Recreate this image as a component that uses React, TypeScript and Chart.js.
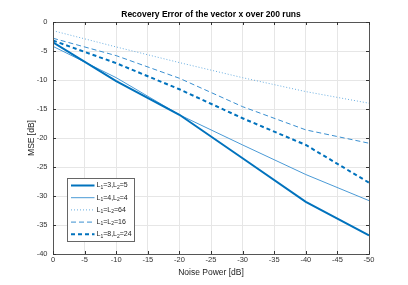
import React, { useEffect, useRef } from "react";
import { Chart, registerables } from "chart.js";

Chart.register(...registerables);

const noisePower = [0, -10, -20, -30, -40, -50];
const seriesLabels = ["L₁=3,L₂=5", "L₁=4,L₂=4", "L₁=L₂=64", "L₁=L₂=16", "L₁=8,L₂=24"];
const mse_3_5 = [-3.5, -10.2, -16.0, -23.5, -31.0, -36.8];
const mse_4_4 = [-4.2, -9.6, -16.0, -21.2, -26.3, -30.8];
const mse_64_64 = [-1.5, -4.3, -7.0, -9.6, -12.0, -14.0];
const mse_16_16 = [-2.8, -5.8, -9.7, -14.6, -18.6, -20.9];
const mse_8_24 = [-3.2, -7.1, -11.6, -16.6, -21.2, -27.7];
const xTicks = [0, -5, -10, -15, -20, -25, -30, -35, -40, -45, -50];
const yTicks = [0, -5, -10, -15, -20, -25, -30, -35, -40];

const FONT = "'Liberation Sans', Arial, Helvetica, sans-serif";

function toPoints(ys: number[]) {
  return ys.map((y, i) => ({ x: noisePower[i], y }));
}

const boxPlugin = {
  id: "boxTicks",
  afterDraw(chart: any) {
    const { ctx, chartArea: a } = chart;
    const xs = chart.scales.x;
    const ys = chart.scales.y;
    ctx.save();
    ctx.strokeStyle = "#555";
    ctx.lineWidth = 1;
    ctx.beginPath();
    ctx.rect(Math.round(a.left) + 0.5, Math.round(a.top) + 0.5, Math.round(a.right - a.left), Math.round(a.bottom - a.top));
    ctx.stroke();
    ctx.strokeStyle = "#333";
    ctx.beginPath();
    xTicks.forEach((t) => {
      const px = Math.round(xs.getPixelForValue(t)) + 0.5;
      ctx.moveTo(px, a.bottom);
      ctx.lineTo(px, a.bottom - 3);
      ctx.moveTo(px, a.top);
      ctx.lineTo(px, a.top + 3);
    });
    yTicks.forEach((t) => {
      const py = Math.round(ys.getPixelForValue(t)) + 0.5;
      ctx.moveTo(a.left, py);
      ctx.lineTo(a.left + 3, py);
      ctx.moveTo(a.right, py);
      ctx.lineTo(a.right - 3, py);
    });
    ctx.stroke();
    ctx.restore();
  },
};

const subMap: Record<string, string> = { "₁": "1", "₂": "2" };

const legendPlugin = {
  id: "insideLegend",
  afterDraw(chart: any) {
    const { ctx, chartArea: a } = chart;
    const ds = chart.data.datasets;
    const bx = a.left + 14.5;
    const by = a.bottom - 75.5;
    const bw = 67;
    const bh = 63;
    ctx.save();
    ctx.fillStyle = "#fff";
    ctx.fillRect(bx, by, bw, bh);
    ctx.strokeStyle = "#666";
    ctx.lineWidth = 1;
    ctx.strokeRect(bx, by, bw, bh);
    ds.forEach((d: any, i: number) => {
      const cy = by + 7 + i * 12.2;
      ctx.strokeStyle = d.borderColor;
      ctx.lineWidth = d.borderWidth;
      ctx.setLineDash(d.borderDash || []);
      ctx.beginPath();
      ctx.moveTo(bx + 3.5, cy);
      ctx.lineTo(bx + 27, cy);
      ctx.stroke();
      ctx.setLineDash([]);
      let tx = bx + 29;
      ctx.fillStyle = "#222";
      ctx.textBaseline = "middle";
      for (const ch of d.label as string) {
        if (subMap[ch]) {
          ctx.font = `5px ${FONT}`;
          ctx.fillText(subMap[ch], tx, cy + 2);
          tx += ctx.measureText(subMap[ch]).width;
        } else {
          ctx.font = `7px ${FONT}`;
          ctx.fillText(ch, tx, cy);
          tx += ctx.measureText(ch).width;
        }
      }
    });
    ctx.restore();
  },
};

export default function App() {
  const ref = useRef<HTMLCanvasElement>(null);
  useEffect(() => {
    if (!ref.current) return;
    const chart = new Chart(ref.current, {
      type: "line",
      data: {
        datasets: [
          { label: seriesLabels[0], data: toPoints(mse_3_5), borderColor: "#0072BD", borderWidth: 2, borderDash: [], pointRadius: 0 },
          { label: seriesLabels[1], data: toPoints(mse_4_4), borderColor: "#4a9ad6", borderWidth: 1, borderDash: [], pointRadius: 0 },
          { label: seriesLabels[2], data: toPoints(mse_64_64), borderColor: "#6aaee0", borderWidth: 1, borderDash: [1, 2], pointRadius: 0 },
          { label: seriesLabels[3], data: toPoints(mse_16_16), borderColor: "#3a8fd0", borderWidth: 1, borderDash: [5, 3], pointRadius: 0 },
          { label: seriesLabels[4], data: toPoints(mse_8_24), borderColor: "#0072BD", borderWidth: 2, borderDash: [4, 3], pointRadius: 0 },
        ],
      } as any,
      options: {
        animation: false,
        responsive: false,
        layout: { padding: { left: 0, right: 39, top: 0, bottom: 0 } },
        plugins: {
          legend: { display: false },
          tooltip: { enabled: false },
          title: {
            display: true,
            text: "Recovery Error of the vector x over 200 runs",
            color: "#000",
            font: { family: FONT, size: 8.5, weight: "bold", lineHeight: 1.2 },
            padding: { top: 10, bottom: 1.8 },
            fullSize: false,
          },
        },
        scales: {
          x: {
            type: "linear",
            min: -50,
            max: 0,
            reverse: true,
            afterBuildTicks: (s: any) => { s.ticks = xTicks.map((v) => ({ value: v })); },
            afterFit: (s: any) => { s.height = 31; },
            ticks: { color: "#333", font: { family: FONT, size: 7.5 }, padding: 1, maxRotation: 0, autoSkip: false, callback: (v: any) => String(v) },
            grid: { color: "#e6e6e6", drawTicks: false },
            border: { color: "#555" },
            title: { display: true, text: "Noise Power [dB]", color: "#222", font: { family: FONT, size: 8.5, lineHeight: 1.2 }, padding: { top: 0, bottom: 7.5 } },
          },
          y: {
            type: "linear",
            min: -40,
            max: 0,
            afterBuildTicks: (s: any) => { s.ticks = yTicks.map((v) => ({ value: v })); },
            afterFit: (s: any) => { s.width = 53; },
            ticks: { color: "#333", font: { family: FONT, size: 7.5 }, padding: 5.5, autoSkip: false, callback: (v: any) => String(v) },
            grid: { color: "#e6e6e6", drawTicks: false },
            border: { color: "#555" },
            title: { display: true, text: "MSE [dB]", color: "#222", font: { family: FONT, size: 8.5, lineHeight: 1.2 }, padding: { top: 27, bottom: 0 } },
          },
        },
      } as any,
      plugins: [boxPlugin, legendPlugin],
    });
    return () => chart.destroy();
  }, []);
  return (
    <div style={{ position: "absolute", left: 0, top: 0, width: 408, height: 285, background: "#fff" }}>
      <canvas ref={ref} width={408} height={285} />
    </div>
  );
}
